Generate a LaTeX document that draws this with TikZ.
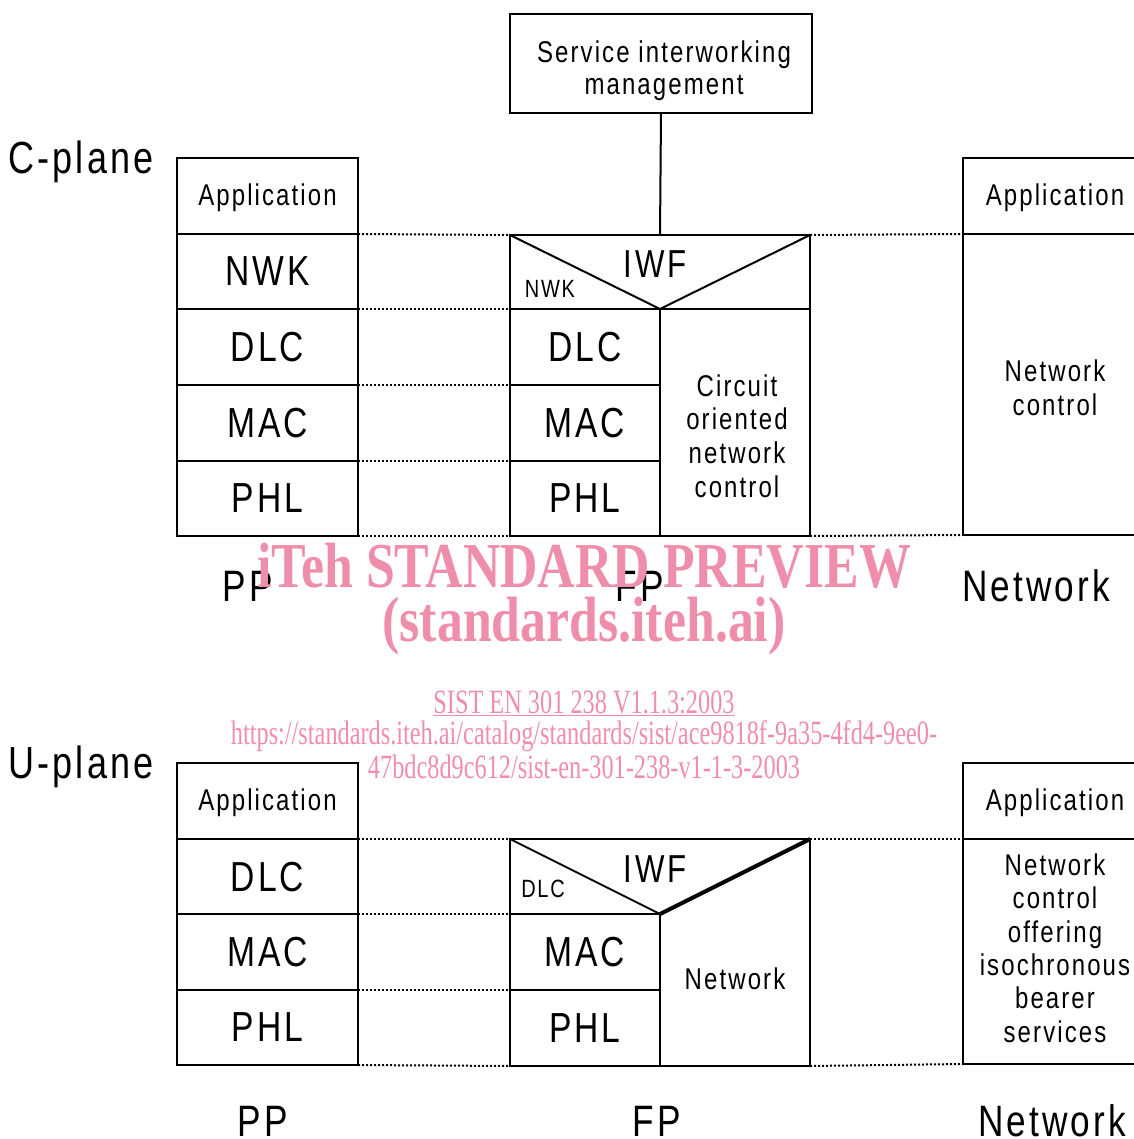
\documentclass[tikz,border=0pt]{standalone}
\usepackage{fontspec}
\setmainfont{Liberation Sans}[FakeStretch=0.8, LetterSpace=7]
\newfontfamily\wmfont{Liberation Serif}[FakeStretch=0.715]
\newfontfamily\wmbfont{Liberation Serif}[FakeStretch=0.81]
\definecolor{wmpink}{RGB}{239,142,170}
\tikzset{
  box/.style={draw, line width=2pt, inner sep=0pt, outer sep=0pt, align=center},
  ts/.style={font=\fontsize{30}{34}\selectfont},
  tl/.style={font=\fontsize{42}{46}\selectfont},
  tbig/.style={font=\fontsize{44}{48}\selectfont},
  dots/.style={line width=2pt, dash pattern=on 2pt off 2pt},
  lbl/.style={inner sep=0pt, align=center},
  wm/.style={text=wmpink, inner sep=0pt, align=center}
}
\begin{document}
\begin{tikzpicture}[x=1pt,y=-1pt]
\useasboundingbox (0,0) rectangle (1133,1139);

% ---------- C-plane ----------
\node[lbl, font=\fontsize{45}{50}\selectfont] (cpl) at (81,162) {C-plane};

\node[box, minimum width=302, minimum height=99] (svc) at (661,63.5) {};
\node[lbl, font=\fontsize{30}{32}\selectfont] (svct) at (664,71) {Service interworking\\management};

% PP stack
\node[box, ts, minimum width=181, minimum height=76, text depth=3pt] (ppcA) at (267.5,196) {Application};
\node[box, tl, minimum width=181, minimum height=75] (ppcN) at (267.5,271.5) {NWK};
\node[box, tl, minimum width=181, minimum height=76] (ppcD) at (267.5,347) {DLC};
\node[box, tl, minimum width=181, minimum height=76] (ppcM) at (267.5,423) {MAC};
\node[box, tl, minimum width=181, minimum height=75] (ppcP) at (267.5,498.5) {PHL};

% FP stack
\node[box, minimum width=300, minimum height=74] (fpI) at (660,272) {};
\draw[line width=2pt] (fpI.north west) -- (fpI.south) -- (fpI.north east);
\node[lbl, font=\fontsize{39}{42}\selectfont] (iwf1) at (655,264) {IWF};
\node[lbl, font=\fontsize{25}{28}\selectfont] (nwk1) at (550,289) {NWK};
\node[box, tl, minimum width=150, minimum height=76, text depth=-4pt] (fpD) at (585,347) {DLC};
\node[box, tl, minimum width=150, minimum height=76, text depth=-4pt] (fpM) at (585,423) {MAC};
\node[box, tl, minimum width=150, minimum height=75, text depth=-4pt] (fpP) at (585,498.5) {PHL};
\node[box, minimum width=150, minimum height=227] (fpC) at (735,422.5) {};
\node[lbl, font=\fontsize{30}{33.7}\selectfont] (fpCt) at (737,436) {Circuit\\oriented\\network\\control};

\draw[line width=2pt] (svc.south) -- (fpI.north);

% Network stack
\node[box, ts, minimum width=184, minimum height=76, text depth=3pt] (ntA) at (1055,196) {Application};
\node[box, minimum width=184, minimum height=301] (ntC) at (1055,384.5) {};
\node[lbl, font=\fontsize{30}{34}\selectfont] (ntCt) at (1055,388) {Network\\control};

% dotted connectors
\draw[dots] (ppcN.north east) -- (fpI.north west);
\draw[dots] (fpI.north east) -- (ntC.north west);
\draw[dots] (ppcD.north east) -- (fpD.north west);
\draw[dots] (ppcM.north east) -- (fpM.north west);
\draw[dots] (ppcP.north east) -- (fpP.north west);
\draw[dots] (ppcP.south east) -- (fpP.south west);
\draw[dots] (fpC.south east) -- (ntC.south west);

\node[lbl, tbig] (ppl1) at (248,586) {PP};
\node[lbl, tbig] (fpl1) at (640,586) {FP};
\node[lbl, tbig] (ntl1) at (1036,586) {Network};

% ---------- U-plane ----------
\node[lbl, font=\fontsize{45}{50}\selectfont] (upl) at (81,767) {U-plane};

\node[box, ts, minimum width=181, minimum height=76, text depth=3pt] (ppuA) at (267.5,801) {Application};
\node[box, tl, minimum width=181, minimum height=75, text depth=-4pt] (ppuD) at (267.5,876.5) {DLC};
\node[box, tl, minimum width=181, minimum height=76, text depth=-4pt] (ppuM) at (267.5,952) {MAC};
\node[box, tl, minimum width=181, minimum height=75, text depth=-4pt] (ppuP) at (267.5,1027.5) {PHL};

\node[box, minimum width=300, minimum height=227] (fpU) at (660,952.5) {};
\node[box, tl, minimum width=150, minimum height=76, text depth=-2pt] (fpuM) at (585,952) {MAC};
\node[box, tl, minimum width=150, minimum height=76, text depth=-2pt] (fpuP) at (585,1028) {PHL};
\draw[line width=2pt] (fpU.north west) -- (fpuM.north east);
\draw[line width=4pt] (fpuM.north east) -- (fpU.north east);
\node[lbl, font=\fontsize{39}{42}\selectfont] (iwf2) at (655,869) {IWF};
\node[lbl, font=\fontsize{25}{28}\selectfont] (dlc2) at (543,889) {DLC};
\node[lbl, ts] (fpUt) at (735,979) {Network};

\node[box, ts, minimum width=184, minimum height=76, text depth=3pt] (ntuA) at (1055,801) {Application};
\node[box, minimum width=184, minimum height=225] (ntuC) at (1055,951.5) {};
\node[lbl, font=\fontsize{30}{33.4}\selectfont] (ntuCt) at (1055,948) {Network\\control\\offering\\isochronous\\bearer\\services};

\draw[dots] (ppuD.north east) -- (fpU.north west);
\draw[dots] (fpU.north east) -- (ntuC.north west);
\draw[dots] (ppuM.north east) -- (fpuM.north west);
\draw[dots] (ppuP.north east) -- (fpuP.north west);
\draw[dots] (ppuP.south east) -- (fpuP.south west);
\draw[dots] (fpU.south east) -- (ntuC.south west);

\node[lbl, tbig] (ppl2) at (263,1121) {PP};
\node[lbl, tbig] (fpl2) at (657,1121) {FP};
\node[lbl, tbig] (ntl2) at (1052,1121) {Network};

% ---------- watermark ----------
\node[wm, font=\wmbfont\bfseries\fontsize{64}{68}\selectfont] (wm1) at (584,566) {iTeh STANDARD PREVIEW};
\node[wm, font=\wmbfont\bfseries\fontsize{64}{68}\selectfont] (wm2) at (584,626) {(standards.iteh.ai)};
\node[wm, font=\wmfont\fontsize{34}{38}\selectfont] (wm3) at (584,703) {\underline{SIST EN 301 238 V1.1.3:2003}};
\node[wm, font=\wmfont\fontsize{34}{38}\selectfont] (wm4) at (584,736) {https://standards.iteh.ai/catalog/standards/sist/ace9818f-9a35-4fd4-9ee0-};
\node[wm, font=\wmfont\fontsize{34}{38}\selectfont] (wm5) at (584,767) {47bdc8d9c612/sist-en-301-238-v1-1-3-2003};
\end{tikzpicture}
\end{document}
